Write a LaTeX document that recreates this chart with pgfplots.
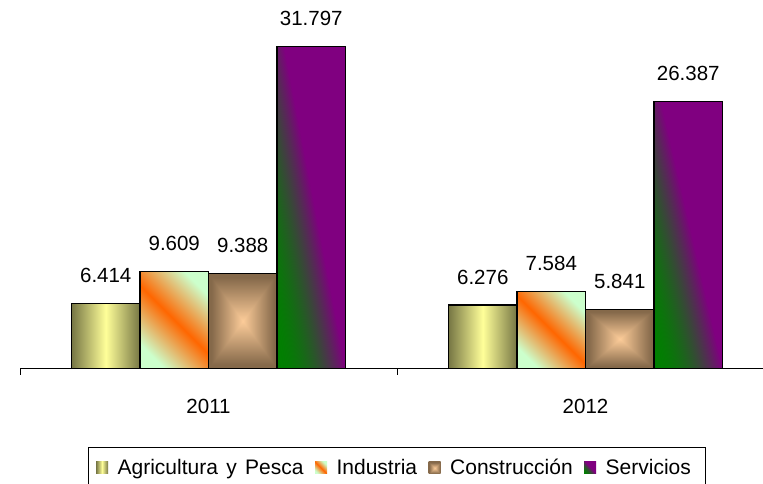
\documentclass[border=0pt]{standalone}
\usepackage{fontspec}
\setmainfont{Liberation Sans}
\usepackage{pgfplots}
\pgfplotsset{compat=1.18}
\definecolor{oliveE}{RGB}{118,118,68}
\definecolor{oliveC}{RGB}{255,255,153}
\definecolor{indO}{RGB}{255,102,0}
\definecolor{indG}{RGB}{204,255,204}
\definecolor{serG}{RGB}{0,128,0}
\definecolor{serP}{RGB}{128,0,128}
% box gradient: peach centre -> brown edges
\pgfdeclarefunctionalshading{boxshade}{\pgfpoint{-50bp}{-50bp}}{\pgfpoint{50bp}{50bp}}{}{
  abs exch abs 2 copy lt {exch} if pop
  23 div
  dup 1 gt {pop 1} if
  dup -0.47 mul 0.99 add
  exch dup -0.39 mul 0.80 add
  exch -0.31 mul 0.60 add
}
% diagonal green (bottom-left) -> purple (top / right)
\pgfdeclarefunctionalshading{servshade}{\pgfpoint{-50bp}{-50bp}}{\pgfpoint{50bp}{50bp}}{}{
  0.018 mul exch 0.02 mul add 0.95 add
  dup 1 gt {pop 1} if
  dup 0 lt {pop 0} if
  dup mul
  dup 0.5 mul
  exch dup -0.5 mul 0.5 add
  exch 0.5 mul
}
\pgfplotsset{
  agri/.style={draw=black, line width=1.2pt, left color=oliveE, right color=oliveE, middle color=oliveC, bar shift=-102.75pt},
  indu/.style={draw=black, line width=1.2pt, top color=indG, bottom color=indG, middle color=indO, shading angle=-45, bar shift=-34.25pt},
  cons/.style={draw=black, line width=1.2pt, shading=boxshade, bar shift=34.25pt},
  serv/.style={draw=black, line width=1.2pt, shading=servshade, bar shift=102.75pt},
}
\begin{document}
\begin{tikzpicture}
\path[use as bounding box] (0,0) rectangle (763pt,483pt);
\begin{axis}[
  at={(20pt,114.5pt)}, anchor=south west,
  scale only axis, width=743pt, height=368.5pt,
  xmin=-0.5, xmax=1.4708, ymin=0, ymax=36.38,
  axis y line=none, axis x line*=bottom,
  axis line style={line width=1.2pt},
  ybar, bar width=68.5pt,
  xtick={0,1}, xticklabels={2011,2012},
  minor xtick={-0.5,0.5,1.5},
  major tick length=0pt, minor tick length=6pt,
  tick align=outside, tick style={line width=1pt, black},
  xticklabel style={font=\fontsize{20.5}{24}\selectfont, inner sep=0pt, anchor=north, yshift=-30pt},
  nodes near coords,
  point meta=explicit symbolic,
  every node near coord/.append style={font=\fontsize{20.5}{24}\selectfont, inner sep=0pt, anchor=south, yshift=20pt, black},
  legend image code/.code={\path[#1, draw=none] (0pt,-6pt) rectangle (12pt,6pt);},
  legend columns=-1,
  legend style={at={(0.5074,-0.2130)}, anchor=north, draw=black, line width=1pt,
    inner xsep=8pt, inner ysep=12pt,
    font=\fontsize{21}{25}\selectfont,
    nodes={inner sep=0pt, anchor=west},
    /tikz/every odd column/.append style={column sep=9.5pt},
    /tikz/every even column/.append style={column sep=11.5pt}},
]
\addplot[agri] coordinates {(0,6.414) [6.414]};
\addplot[indu] coordinates {(0,9.609) [9.609]};
\addplot[cons] coordinates {(0,9.388) [9.388]};
\addplot[serv] coordinates {(0,31.797) [31.797]};
\addplot[agri, forget plot] coordinates {(1,6.276) [6.276]};
\addplot[indu, forget plot] coordinates {(1,7.584) [7.584]};
\addplot[cons, forget plot] coordinates {(1,5.841) [5.841]};
\addplot[serv, forget plot] coordinates {(1,26.387) [26.387]};
\legend{Agricultura\hspace{0.4em}y\hspace{0.4em}Pesca, Industria, Construcción, Servicios\hspace*{7pt}}
\end{axis}
\end{tikzpicture}
\end{document}
